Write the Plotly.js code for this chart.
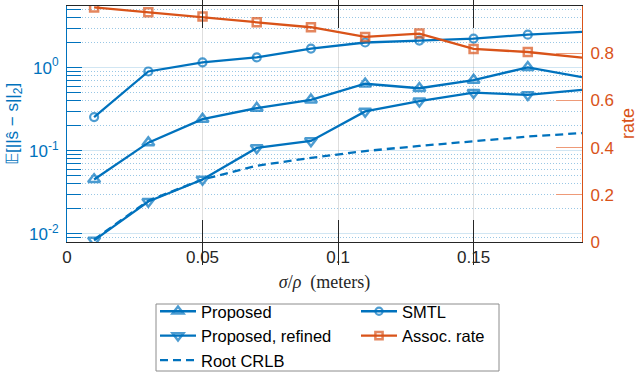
<!DOCTYPE html>
<html>
<head>
<meta charset="utf-8">
<script src="https://cdn.plot.ly/plotly-3.0.1.min.js"></script>
<style>html,body{margin:0;padding:0;background:#fff;}#chart{width:640px;height:373px;}</style>
</head>
<body>
<div id="chart"></div>
<script>
// sigma/rho (meters)
const sigma = [0.01, 0.03, 0.05, 0.07, 0.09, 0.11, 0.13, 0.15, 0.17, 0.19];
// E[||s_hat - s||_2]
const proposed = [0.045, 0.125, 0.24, 0.326, 0.41, 0.64, 0.565, 0.71, 1.01, 0.77];
const proposedRefined = [0.0083, 0.0244, 0.045, 0.108, 0.131, 0.297, 0.395, 0.50, 0.471, 0.54];
const smtl = [0.254, 0.90, 1.16, 1.33, 1.70, 2.01, 2.12, 2.24, 2.50, 2.70];
const rootCRLB = [0.0085, 0.025, 0.045, 0.0658, 0.082, 0.099, 0.114, 0.131, 0.148, 0.163];
// association rate (right axis)
const assocRate = [0.994, 0.973, 0.955, 0.931, 0.91, 0.869, 0.883, 0.818, 0.805, 0.781];

const xTickVals = [0, 0.05, 0.1, 0.15];
const xTickText = ['0', '0.05', '0.1', '0.15'];
const yTickVals = [0.01, 0.1, 1];
const yTickText = ['10<sup>-2</sup>', '10<sup>-1</sup>', '10<sup>0</sup>'];
const y2TickVals = [0, 0.2, 0.4, 0.6, 0.8, 1];
const y2TickText = ['0', '0.2', '0.4', '0.6', '0.8', '1'];
const yTitle = '𝔼[||ŝ − s||<sub>2</sub>]';
const y2Title = 'rate';
const xTitle = '<i>σ</i>/<i>ρ</i>  (meters)';

const BLUE = '#0072BD', ORANGE = '#D95319';
const FONT = 'Liberation Sans, Arial, sans-serif';

// minor log ticks 2..9 per decade
const minorVals = [];
for (let e = -3; e <= 0; e++) for (let d = 2; d <= 9; d++) minorVals.push(d * Math.pow(10, e));

// hide marker of the final (edge) point
const sizes = (s) => sigma.map((_, i) => i === sigma.length - 1 ? 0 : s);

const traces = [
  {x: sigma, y: proposed, name: 'Proposed', legend: 'legend', mode: 'lines+markers',
   line: {color: BLUE, width: 2.3}, marker: {symbol: 'triangle-up-open', size: sizes(10.5), color: BLUE, line: {width: 2.5, color: BLUE}}},
  {x: sigma, y: proposedRefined, name: 'Proposed, refined', legend: 'legend', mode: 'lines+markers',
   line: {color: BLUE, width: 2.3}, marker: {symbol: 'triangle-down-open', size: sizes(10.5), color: BLUE, line: {width: 2.5, color: BLUE}}},
  {x: sigma, y: rootCRLB, name: 'Root CRLB', legend: 'legend', mode: 'lines',
   line: {color: BLUE, width: 2.3, dash: '8px,5px'}},
  {x: sigma, y: smtl, name: 'SMTL', legend: 'legend2', mode: 'lines+markers',
   line: {color: BLUE, width: 2.3}, marker: {symbol: 'circle-open', size: sizes(8), color: BLUE, line: {width: 2.2, color: BLUE}}},
  {x: sigma, y: assocRate, name: 'Assoc. rate', legend: 'legend2', yaxis: 'y2', mode: 'lines+markers',
   line: {color: ORANGE, width: 2.3}, marker: {symbol: 'square-open', size: sizes(8), color: ORANGE, line: {width: 2.5, color: ORANGE}}}
];

const legendCommon = {
  orientation: 'v', xanchor: 'left', yanchor: 'top', xref: 'container', yref: 'container',
  bgcolor: 'rgba(0,0,0,0)', borderwidth: 0, maxheight: 300,
  font: {family: FONT, size: 16.5, color: '#000'}, itemwidth: 36, tracegroupgap: 0
};

const layout = {
  width: 640, height: 373,
  margin: {l: 67, r: 58, t: 6, b: 131, autoexpand: false},
  paper_bgcolor: '#fff', plot_bgcolor: '#fff',
  showlegend: true,
  font: {family: FONT, size: 17, color: '#262626'},
  xaxis: {
    range: [0, 0.19], tickmode: 'array', tickvals: xTickVals, ticktext: xTickText,
    ticks: 'inside', ticklen: 22, tickwidth: 1, tickcolor: '#262626',
    showline: true, linecolor: '#262626', linewidth: 1, mirror: 'allticks',
    showgrid: true, gridcolor: '#dedede', gridwidth: 1, zeroline: false, automargin: false,
    tickfont: {family: FONT, size: 17, color: '#262626'},
    title: {text: xTitle, font: {family: 'Liberation Serif, DejaVu Serif, serif', size: 18, color: '#262626'}, standoff: 8}
  },
  yaxis: {
    type: 'log', range: [-2.1, 0.743], tickmode: 'array', tickvals: yTickVals, ticktext: yTickText,
    ticks: 'inside', ticklen: 15, tickwidth: 1, tickcolor: BLUE,
    showline: true, linecolor: BLUE, linewidth: 1, automargin: false,
    showgrid: true, gridcolor: 'rgba(0,114,189,0.18)', gridwidth: 1, zeroline: false,
    ticklabelstandoff: 4,
    tickfont: {family: FONT, size: 17, color: BLUE},
    minor: {tickmode: 'array', tickvals: minorVals, ticks: 'inside', ticklen: 14, tickwidth: 1, tickcolor: BLUE,
            showgrid: true, gridcolor: 'rgba(0,114,189,0.4)', griddash: '1px,2px', gridwidth: 1}
  },
  yaxis2: {
    overlaying: 'y', side: 'right', range: [0, 1], tickmode: 'array', tickvals: y2TickVals, ticktext: y2TickText,
    ticks: 'inside', ticklen: 26, tickwidth: 1, tickcolor: '#ee9a78',
    showline: true, linecolor: ORANGE, linewidth: 1, showgrid: false, zeroline: false, automargin: false,
    ticklabelstandoff: 4,
    tickfont: {family: FONT, size: 17, color: ORANGE}
  },
  annotations: [
    {text: yTitle, xref: 'paper', yref: 'paper', x: (14 - 67) / 515, y: 0.5, xanchor: 'center', yanchor: 'middle',
     textangle: -90, showarrow: false, font: {family: FONT, size: 17, color: BLUE}},
    {text: y2Title, xref: 'paper', yref: 'paper', x: (628 - 67) / 515, y: 0.5, xanchor: 'center', yanchor: 'middle',
     textangle: -90, showarrow: false, font: {family: FONT, size: 18, color: ORANGE}}
  ],
  legend: Object.assign({}, legendCommon, {x: 155 / 640, y: (373 - 294) / 373}),
  legend2: Object.assign({}, legendCommon, {x: 356 / 640, y: (373 - 294) / 373}),
  shapes: [{
    type: 'rect', xref: 'paper', yref: 'paper', layer: 'above',
    x0: (156 - 67) / 515, x1: (499 - 67) / 515, y0: (242 - 304) / 236, y1: (242 - 371) / 236,
    line: {color: '#8c8c8c', width: 1}, fillcolor: 'rgba(0,0,0,0)'
  }]
};

Plotly.newPlot('chart', traces, layout, {displayModeBar: false, staticPlot: true});
</script>
</body>
</html>
